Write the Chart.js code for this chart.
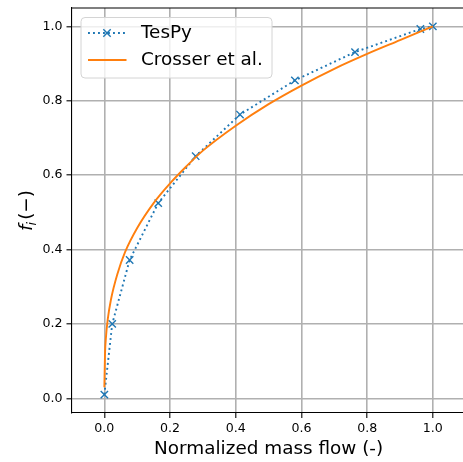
<!DOCTYPE html>
<html>
<head>
<meta charset="utf-8">
<script src="https://cdn.jsdelivr.net/npm/chart.js@4.4.1/dist/chart.umd.min.js"></script>
<style>
  html, body { margin: 0; padding: 0; background: #fff; overflow: hidden; }
  #wrap { width: 480px; height: 462px; }
</style>
</head>
<body>
<div id="wrap"><canvas id="chart" width="480" height="462"></canvas></div>
<script>
// TesPy results (markers)
const tespyX = [0.0, 0.024, 0.077, 0.164, 0.278, 0.413, 0.58, 0.763, 0.962, 1.0];
const tespyY = [0.01, 0.2, 0.372, 0.525, 0.651, 0.763, 0.855, 0.931, 0.993, 1.0];

// Crosser et al. curve
const crosserX = [0.0, 0.002, 0.005, 0.01, 0.02, 0.04, 0.063, 0.1, 0.15, 0.2, 0.25, 0.3, 0.4, 0.5, 0.6, 0.7, 0.8, 0.9, 1.0];
const crosserY = [0.03, 0.12, 0.165, 0.21, 0.265, 0.335, 0.393, 0.458, 0.525, 0.578, 0.624, 0.666, 0.733, 0.791, 0.841, 0.886, 0.926, 0.963, 1.0];

const xTicks = [0.0, 0.2, 0.4, 0.6, 0.8, 1.0];
const yTicks = [0.0, 0.2, 0.4, 0.6, 0.8, 1.0];

const seriesLabels = ['TesPy', 'Crosser et al.'];
const xLabel = 'Normalized mass flow (-)';

const BLUE = '#1f77b4';
const ORANGE = '#ff7f0e';
const FONT = 'DejaVu Sans';

function toPoints(xs, ys) {
  return xs.map((x, i) => ({ x: x, y: ys[i] }));
}

// top/right spines like matplotlib
const framePlugin = {
  id: 'frame',
  afterDraw(chart) {
    const a = chart.chartArea;
    const ctx = chart.ctx;
    ctx.save();
    ctx.strokeStyle = '#000';
    ctx.lineWidth = 1.1;
    ctx.beginPath();
    ctx.moveTo(a.left, a.top);
    ctx.lineTo(a.right, a.top);
    ctx.lineTo(a.right, a.bottom);
    ctx.stroke();
    ctx.restore();
  }
};

// legend box in the upper left corner
const legendPlugin = {
  id: 'boxLegend',
  afterDraw(chart) {
    const ctx = chart.ctx;
    ctx.save();
    const x = 81, y = 17.5, w = 191, h = 60.5, r = 4;
    ctx.beginPath();
    ctx.roundRect(x, y, w, h, r);
    ctx.fillStyle = 'rgba(255,255,255,0.8)';
    ctx.fill();
    ctx.strokeStyle = '#d4d4d4';
    ctx.lineWidth = 1;
    ctx.stroke();

    // TesPy entry
    ctx.strokeStyle = BLUE;
    ctx.lineWidth = 1.9;
    ctx.setLineDash([1.9, 3.1]);
    ctx.beginPath();
    ctx.moveTo(88, 33);
    ctx.lineTo(126.5, 33);
    ctx.stroke();
    ctx.setLineDash([]);
    ctx.lineWidth = 1.4;
    const m = 3.7;
    ctx.beginPath();
    ctx.moveTo(107 - m, 33 - m); ctx.lineTo(107 + m, 33 + m);
    ctx.moveTo(107 - m, 33 + m); ctx.lineTo(107 + m, 33 - m);
    ctx.stroke();

    // Crosser entry
    ctx.strokeStyle = ORANGE;
    ctx.lineWidth = 1.9;
    ctx.beginPath();
    ctx.moveTo(88, 60);
    ctx.lineTo(126.5, 60);
    ctx.stroke();

    ctx.fillStyle = '#000';
    ctx.font = '18.4px ' + FONT;
    ctx.textBaseline = 'middle';
    ctx.textAlign = 'left';
    ctx.fillText(seriesLabels[0], 141, 33);
    ctx.fillText(seriesLabels[1], 141, 60);
    ctx.restore();
  }
};

// y axis label: italic f with subscript i, then (−)
const yLabelPlugin = {
  id: 'yLabel',
  afterDraw(chart) {
    const ctx = chart.ctx;
    const a = chart.chartArea;
    ctx.save();
    ctx.translate(32, (a.top + a.bottom) / 2);
    ctx.rotate(-Math.PI / 2);
    ctx.fillStyle = '#000';
    ctx.textBaseline = 'alphabetic';
    ctx.textAlign = 'left';
    const big = 'italic 18.4px ' + FONT;
    const small = 'italic 12.9px ' + FONT;
    const rest = '18.4px ' + FONT;
    ctx.font = big; const wf = ctx.measureText('f').width;
    ctx.font = small; const wi = ctx.measureText('i').width;
    ctx.font = rest; const wr = ctx.measureText('(\u2212)').width;
    let x = -(wf + wi + 1 + wr) / 2;
    ctx.font = big; ctx.fillText('f', x, 0); x += wf;
    ctx.font = small; ctx.fillText('i', x - 1, 3.5); x += wi + 1;
    ctx.font = rest; ctx.fillText('(\u2212)', x, 0);
    ctx.restore();
  }
};

const gridOpts = {
  color: '#b0b0b0',
  lineWidth: 1.6,
  tickColor: '#000',
  tickWidth: 1.1,
  tickLength: 5
};

new Chart(document.getElementById('chart'), {
  type: 'scatter',
  data: {
    datasets: [
      {
        label: seriesLabels[0],
        data: toPoints(tespyX, tespyY),
        showLine: true,
        borderColor: BLUE,
        borderWidth: 1.9,
        borderDash: [1.9, 3.1],
        pointStyle: 'crossRot',
        pointRadius: 5.2,
        pointBorderWidth: 1.4,
        pointBorderColor: BLUE,
        pointBackgroundColor: BLUE,
        tension: 0,
        order: 2
      },
      {
        label: seriesLabels[1],
        data: toPoints(crosserX, crosserY),
        showLine: true,
        borderColor: ORANGE,
        borderWidth: 1.9,
        pointRadius: 0,
        cubicInterpolationMode: 'monotone',
        order: 1
      }
    ]
  },
  options: {
    responsive: false,
    animation: false,
    layout: { padding: { top: 8, right: 14.3, left: 0, bottom: 0 } },
    plugins: {
      legend: { display: false },
      tooltip: { enabled: false }
    },
    scales: {
      x: {
        type: 'linear',
        min: -0.1,
        max: 1.1,
        afterBuildTicks(scale) { scale.ticks = xTicks.map(v => ({ value: v })); },
        afterFit(scale) {
          scale.height = 49;
          scale.paddingLeft = 0;
          scale.paddingRight = 0;
        },
        grid: gridOpts,
        border: { color: '#000', width: 1.1 },
        ticks: {
          color: '#000',
          padding: 3,
          font: { family: FONT, size: 12.6 },
          callback: v => v.toFixed(1)
        },
        title: {
          display: true,
          text: xLabel,
          color: '#000',
          font: { family: FONT, size: 18.4 },
          padding: { top: 0, bottom: 2 }
        }
      },
      y: {
        type: 'linear',
        min: -0.0395,
        max: 1.0495,
        afterBuildTicks(scale) { scale.ticks = yTicks.map(v => ({ value: v })); },
        afterFit(scale) {
          scale.width = 71.5;
          scale.paddingTop = 0;
          scale.paddingBottom = 0;
        },
        grid: gridOpts,
        border: { color: '#000', width: 1.1 },
        ticks: {
          color: '#000',
          padding: 4,
          font: { family: FONT, size: 12.6 },
          callback: v => v.toFixed(1)
        }
      }
    }
  },
  plugins: [framePlugin, legendPlugin, yLabelPlugin]
});
</script>
</body>
</html>
